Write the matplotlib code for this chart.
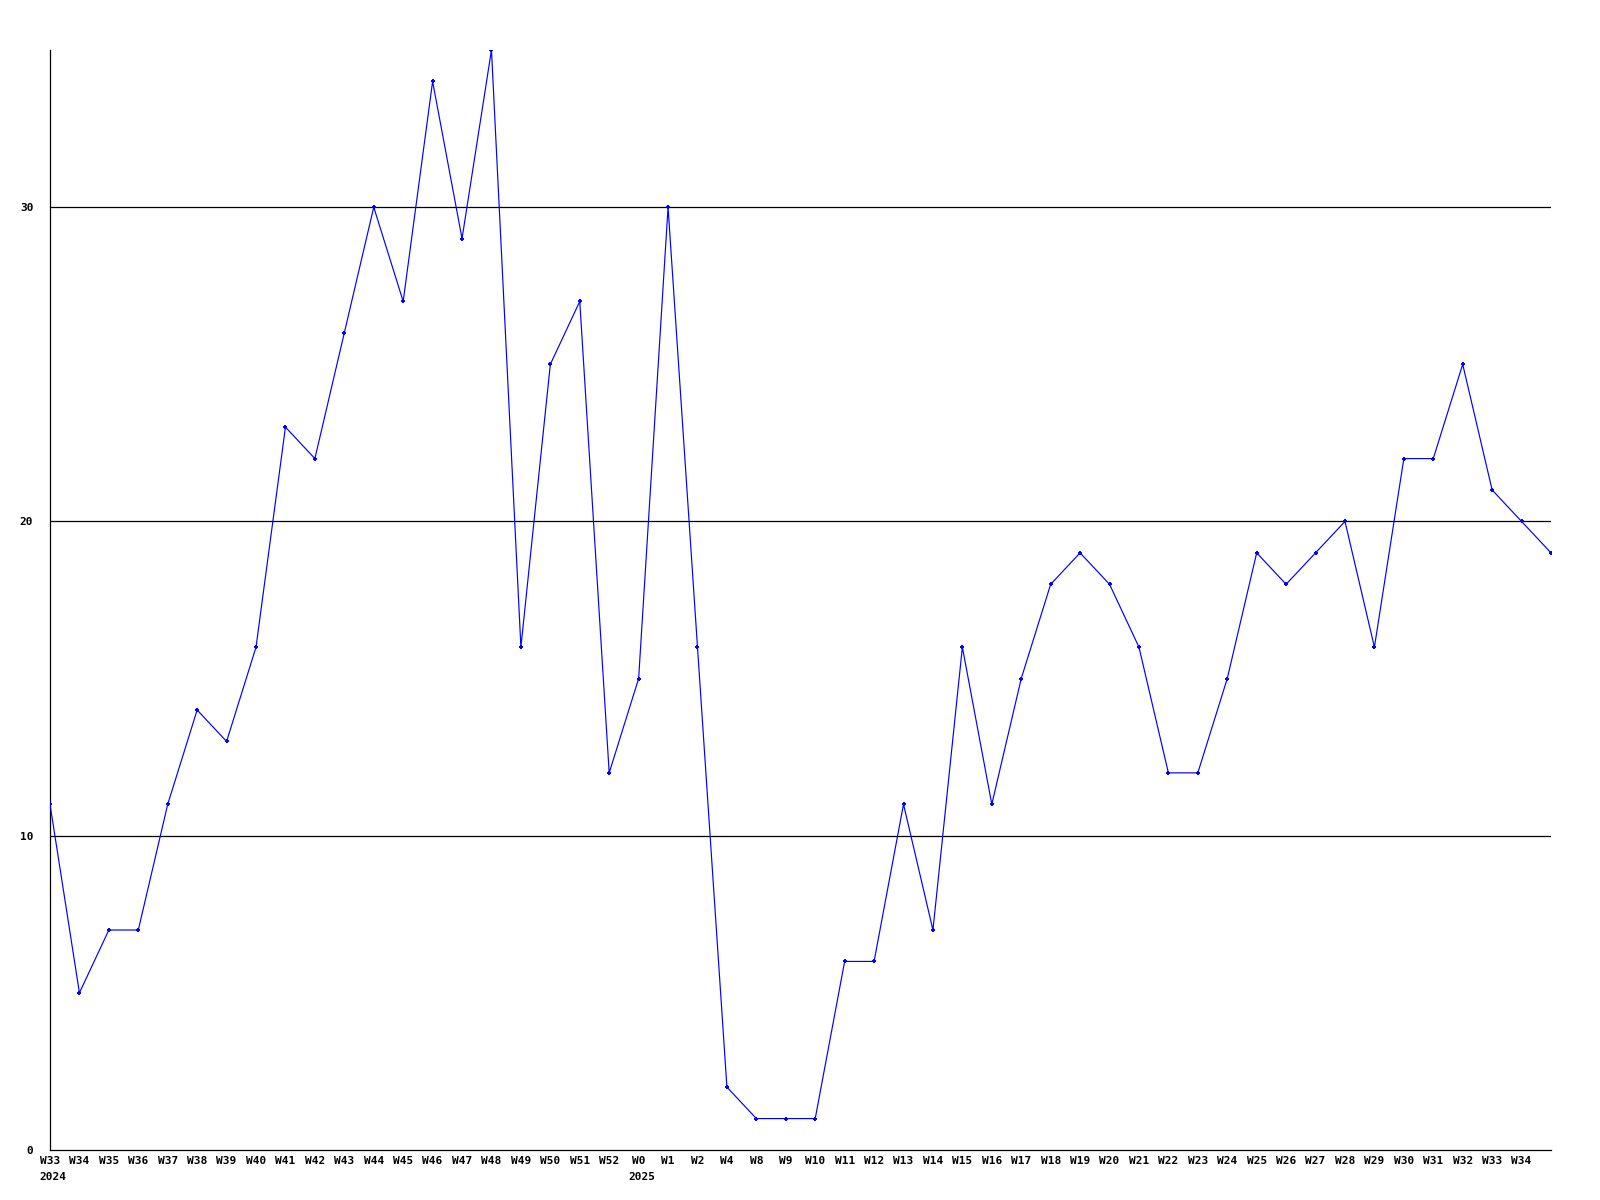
import matplotlib
matplotlib.use("Agg")
import matplotlib.pyplot as plt

weeks = ["W33", "W34", "W35", "W36", "W37", "W38", "W39", "W40", "W41", "W42",
         "W43", "W44", "W45", "W46", "W47", "W48", "W49", "W50", "W51", "W52",
         "W0", "W1", "W2", "W4", "W8", "W9", "W10", "W11", "W12", "W13",
         "W14", "W15", "W16", "W17", "W18", "W19", "W20", "W21", "W22", "W23",
         "W24", "W25", "W26", "W27", "W28", "W29", "W30", "W31", "W32", "W33",
         "W34", ""]
values = [11, 5, 7, 7, 11, 14, 13, 16, 23, 22,
          26, 30, 27, 34, 29, 35, 16, 25, 27, 12,
          15, 30, 16, 2, 1, 1, 1, 6, 6, 11,
          7, 16, 11, 15, 18, 19, 18, 16, 12, 12,
          15, 19, 18, 19, 20, 16, 22, 22, 25, 21,
          20, 19]
years = {0: "2024", 20: "2025"}
yticks = [0, 10, 20, 30]

font = dict(family="DejaVu Sans Mono", weight="bold", size=8)

fig = plt.figure(figsize=(16, 12), dpi=100)
ax = fig.add_axes([50 / 1600, 50 / 1200, 1501 / 1600, 1100 / 1200])

x = list(range(len(values)))
ax.plot(x, values, color="#0000ff", linewidth=0.85, marker="+",
        markersize=3.5, markeredgewidth=1.4, zorder=3)

for yv in yticks[1:]:
    ax.axhline(yv, color="black", linewidth=0.9, zorder=1)

ax.set_xlim(0, len(values) - 1)
ax.set_ylim(0, 35)

ax.set_xticks(x)
ax.set_xticklabels(weeks, fontdict=font)
ax.set_yticks(yticks)
ax.set_yticklabels([str(v) for v in yticks], fontdict=font)
ax.tick_params(axis="both", length=0)
ax.tick_params(axis="x", pad=4.5)
ax.tick_params(axis="y", pad=12)

for i, yr in years.items():
    ax.annotate(yr, xy=(i, 0), xycoords=("data", "axes fraction"),
                xytext=(-7.3, -16), textcoords="offset points",
                ha="left", va="top", **font)

for side in ["top", "right"]:
    ax.spines[side].set_visible(False)
for side in ["left", "bottom"]:
    ax.spines[side].set_linewidth(0.9)

fig.savefig("out.png", dpi=100, facecolor="white")
